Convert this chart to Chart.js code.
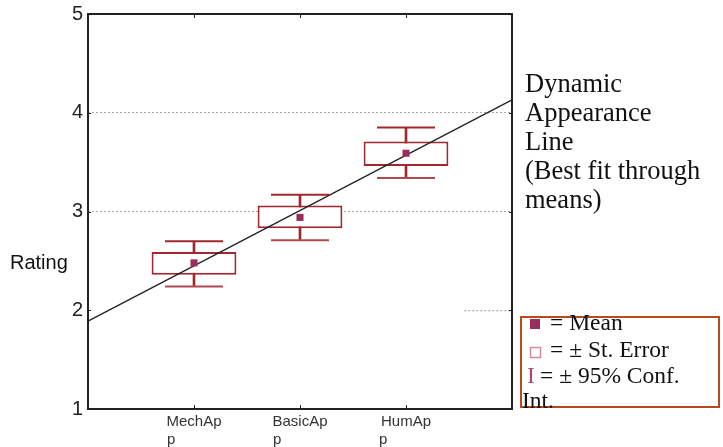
<!DOCTYPE html>
<html>
<head>
<meta charset="utf-8">
<script src="https://cdn.jsdelivr.net/npm/chart.js@4/dist/chart.umd.min.js"></script>
<style>
  html, body { margin: 0; padding: 0; background: #fff; }
  #wrap { width: 723px; height: 447px; }
</style>
</head>
<body>
<div id="wrap"><canvas id="chart" width="723" height="447"></canvas></div>
<script>
// values
var categories = ['MechApp', 'BasicApp', 'HumApp'];
var means  = [2.48, 2.94, 3.59];
var seLow  = [2.36, 2.83, 3.46];
var seHigh = [2.59, 3.06, 3.71];
var ciLow  = [2.24, 2.71, 3.34];
var ciHigh = [2.70, 3.17, 3.85];
var fitEnds = [1.89, 4.13]; // best fit line at left and right edge
var yTicks = [1, 2, 3, 4, 5];

var boxRed = '#a0282e';
var meanColor = '#9b2d5c';

// one empty slot on each side so the categories sit where they do in the original
var labels = [''].concat(categories, ['']);
function pad(arr) { return [null].concat(arr, [null]); }

var frame = {
    id: 'frame',
    afterDraw: function(chart) {
        var ctx = chart.ctx, a = chart.chartArea;
        var x = chart.scales.x, y = chart.scales.y;
        ctx.save();
        // partial dotted line at 2
        ctx.strokeStyle = '#999';
        ctx.lineWidth = 1;
        ctx.setLineDash([2, 2]);
        ctx.beginPath();
        ctx.moveTo(x.getPixelForValue(3.55), y.getPixelForValue(2) + 0.5);
        ctx.lineTo(a.right, y.getPixelForValue(2) + 0.5);
        ctx.stroke();
        ctx.setLineDash([]);

        // box around plot
        ctx.strokeStyle = '#222';
        ctx.lineWidth = 2;
        ctx.strokeRect(a.left, a.top, a.right - a.left, a.bottom - a.top);

        // small inner tick marks
        ctx.lineWidth = 1;
        ctx.beginPath();
        categories.forEach(function(c, i) {
            var px = Math.round(x.getPixelForValue(i + 1)) + 0.5;
            ctx.moveTo(px, a.bottom); ctx.lineTo(px, a.bottom - 4);
            ctx.moveTo(px, a.top); ctx.lineTo(px, a.top + 4);
        });
        yTicks.forEach(function(v) {
            var py = Math.round(y.getPixelForValue(v)) + 0.5;
            ctx.moveTo(a.left, py); ctx.lineTo(a.left + 3, py);
            ctx.moveTo(a.right, py); ctx.lineTo(a.right - 3, py);
        });
        ctx.stroke();

        // axis title, horizontal
        ctx.fillStyle = '#111';
        ctx.font = '20px "Liberation Sans", Arial, sans-serif';
        ctx.textBaseline = 'alphabetic';
        ctx.fillText('Rating', 10, 269);

        // note on the right
        ctx.font = '26.5px "Liberation Serif", "Times New Roman", serif';
        var note = ['Dynamic', 'Appearance', 'Line', '(Best fit through', 'means)'];
        note.forEach(function(t, i) { ctx.fillText(t, 525, 92 + i * 29); });

        // legend box
        ctx.strokeStyle = '#b84a1c';
        ctx.lineWidth = 2;
        ctx.strokeRect(521, 317, 198, 90);
        ctx.font = '23.5px "Liberation Serif", "Times New Roman", serif';
        ctx.fillStyle = meanColor;
        ctx.fillRect(530, 319, 10, 10);
        ctx.strokeStyle = '#d48aa6';
        ctx.lineWidth = 1.5;
        ctx.strokeRect(530.5, 347.5, 10, 10);
        ctx.fillStyle = '#a8487a';
        ctx.fillText('I', 527, 383);
        ctx.fillStyle = '#111';
        ctx.fillText('= Mean', 550, 330);
        ctx.fillText('= \u00b1 St. Error', 550, 357);
        ctx.fillText('= \u00b1 95% Conf.', 540, 383);
        ctx.fillText('Int.', 522, 408);
        ctx.restore();
    }
};

var ctx = document.getElementById('chart').getContext('2d');
var chart = new Chart(ctx, {
    type: 'bar',
    data: {
        labels: labels,
        datasets: [
            {
                // 95% conf whisker stem
                type: 'bar',
                data: pad(ciLow.map(function(v, i) { return [v, ciHigh[i]]; })),
                backgroundColor: boxRed,
                barThickness: 2,
                grouped: false,
                order: 6
            },
            {
                // st. error box
                type: 'bar',
                data: pad(seLow.map(function(v, i) { return [v, seHigh[i]]; })),
                backgroundColor: '#fff',
                borderColor: boxRed,
                borderWidth: 2,
                borderSkipped: false,
                categoryPercentage: 0.8,
                barPercentage: 1,
                grouped: false,
                order: 5
            },
            {
                type: 'line',
                data: pad(ciLow),
                showLine: false,
                pointStyle: 'line',
                pointRadius: 29,
                pointBorderWidth: 2,
                pointBorderColor: '#b04a50',
                order: 4
            },
            {
                type: 'line',
                data: pad(ciHigh),
                showLine: false,
                pointStyle: 'line',
                pointRadius: 29,
                pointBorderWidth: 2,
                pointBorderColor: boxRed,
                order: 4
            },
            {
                // best fit line
                type: 'line',
                data: [fitEnds[0], null, null, null, fitEnds[1]],
                spanGaps: true,
                borderColor: '#222',
                borderWidth: 1.3,
                pointRadius: 0,
                order: 2
            },
            {
                type: 'line',
                data: pad(means),
                showLine: false,
                pointStyle: 'rect',
                pointRadius: 5,
                pointBackgroundColor: meanColor,
                pointBorderColor: meanColor,
                pointBorderWidth: 0,
                order: 1
            }
        ]
    },
    options: {
        responsive: false,
        devicePixelRatio: 1,
        animation: false,
        layout: { autoPadding: false, padding: { top: 14, right: 211, bottom: 0, left: 0 } },
        plugins: {
            legend: { display: false },
            tooltip: { enabled: false }
        },
        scales: {
            x: {
                offset: false,
                grid: { display: false, drawTicks: false },
                border: { display: false },
                ticks: {
                    autoSkip: false,
                    maxRotation: 0,
                    padding: 4,
                    color: '#333',
                    font: { family: '"Liberation Sans", Arial, sans-serif', size: 15 },
                    callback: function(v, i) {
                        var l = labels[i];
                        if (!l) return '';
                        // second line left aligned under the first
                        return [l.slice(0, -1), l.slice(-1) + '           '];
                    }
                },
                afterFit: function(s) { s.height = 38; s.paddingLeft = 0; s.paddingRight = 0; }
            },
            y: {
                min: 1,
                max: 5,
                afterBuildTicks: function(s) { s.ticks = yTicks.map(function(v) { return { value: v }; }); },
                grid: {
                    drawTicks: false,
                    color: function(c) {
                        var v = c.tick && c.tick.value;
                        return (v === 3 || v === 4) ? '#aaa' : 'rgba(0,0,0,0)';
                    }
                },
                border: { display: false, dash: [2, 2] },
                ticks: {
                    padding: 5,
                    color: '#222',
                    font: { family: '"Liberation Sans", Arial, sans-serif', size: 20 }
                },
                afterFit: function(s) { s.width = 88; s.paddingTop = 0; s.paddingBottom = 0; }
            }
        }
    },
    plugins: [frame]
});
</script>
</body>
</html>
